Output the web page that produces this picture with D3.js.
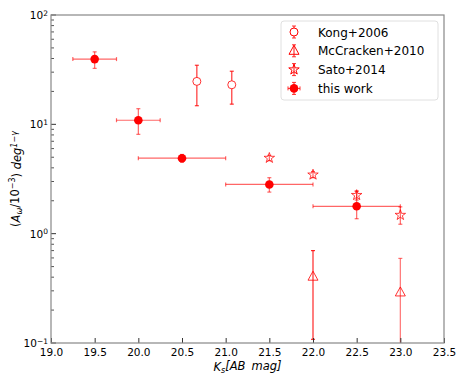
<!DOCTYPE html>
<html>
<head>
<meta charset="utf-8">
<script src="https://cdn.jsdelivr.net/npm/d3@7"></script>
<style>
  body { margin: 0; background: #fff; }
  text { font-family: "DejaVu Sans", sans-serif; }
</style>
</head>
<body>
<div id="chart-area"></div>
<script>
// data
const xTicks = [19.0, 19.5, 20.0, 20.5, 21.0, 21.5, 22.0, 22.5, 23.0, 23.5];
const yTicks = [0.1, 1, 10, 100];

// this work: magnitude, half-width, value, lower, upper
const workMag = [19.5, 20.0, 20.5, 21.5, 22.5];
const workHalf = [0.25, 0.25, 0.5, 0.5, 0.5];
const workVal = [39.5, 10.9, 4.9, 2.82, 1.78];
const workLo = [32.5, 8.1, 4.5, 2.4, 1.37];
const workHi = [46, 13.9, 5.3, 3.25, 2.45];

const kongMag = [20.67, 21.07];
const kongVal = [24.7, 23.0];
const kongLo = [14.8, 15.3];
const kongHi = [34.7, 30.6];

const mccMag = [22.0, 23.0];
const mccVal = [0.404, 0.29];
const mccLo = [0.108, 0.01];
const mccHi = [0.70, 0.594];

const satoMag = [21.5, 22.0, 22.5, 23.0];
const satoVal = [4.92, 3.46, 2.25, 1.48];
const satoLo = [4.65, 3.25, 2.03, 1.22];
const satoHi = [5.2, 3.7, 2.45, 1.76];

const legendNames = ['Kong+2006', 'McCracken+2010', 'Sato+2014', 'this work'];

const margin = { left: 51, right: 19, top: 15, bottom: 34 };
const W = 463, H = 377;
const width = W - margin.left - margin.right;
const height = H - margin.top - margin.bottom;

const svg = d3.select('#chart-area').append('svg')
  .attr('width', W)
  .attr('height', H);

const g = svg.append('g')
  .attr('transform', `translate(${margin.left}, ${margin.top})`);

const x = d3.scaleLinear().domain([19, 23.5]).range([0, width]);
const y = d3.scaleLog().domain([0.1, 100]).range([height, 0]);

const red = '#ff0000';

// clip for marks
svg.append('clipPath').attr('id', 'clip')
  .append('rect').attr('width', width).attr('height', height);
const marks = g.append('g').attr('clip-path', 'url(#clip)');

// x ticks (inside)
const xAxis = d3.axisBottom(x).tickValues(xTicks).tickSizeInner(-5).tickSizeOuter(0)
  .tickPadding(4).tickFormat(d3.format('.1f'));
g.append('g')
  .attr('transform', `translate(0, ${height})`)
  .call(xAxis)
  .call(a => a.select('.domain').remove())
  .call(a => a.selectAll('line').attr('stroke', '#333'))
  .call(a => a.selectAll('text').attr('font-size', '10.5px').attr('fill', '#000')
    .attr('dy', '0.85em'));

// y ticks: major + minor inside
const minor = [];
for (let e = -1; e < 2; e++) {
  for (let k = 2; k < 10; k++) minor.push(k * Math.pow(10, e));
}
const yAxis = g.append('g');
yAxis.selectAll('.major').data(yTicks).enter().append('line')
  .attr('x1', 0).attr('x2', 5)
  .attr('y1', d => y(d)).attr('y2', d => y(d))
  .attr('stroke', '#333');
yAxis.selectAll('.minor').data(minor).enter().append('line')
  .attr('x1', 0).attr('x2', 3)
  .attr('y1', d => y(d)).attr('y2', d => y(d))
  .attr('stroke', '#555');
const yLab = yAxis.selectAll('.lab').data(yTicks).enter().append('text')
  .attr('x', -3)
  .attr('y', d => y(d) + 4)
  .attr('text-anchor', 'end')
  .attr('font-size', '10.5px');
yLab.append('tspan').text('10');
yLab.append('tspan').attr('dy', '-0.45em').attr('font-size', '7.5px')
  .text(d => String(Math.round(Math.log10(d))).replace('-', '\u2212'));

// frame
g.append('rect')
  .attr('width', width).attr('height', height)
  .attr('fill', 'none').attr('stroke', '#888').attr('stroke-width', 1.2);

// error bar helper
function vbar(sel, xv, lo, hi, op) {
  sel.append('line').attr('x1', x(xv)).attr('x2', x(xv))
    .attr('y1', y(lo)).attr('y2', y(hi))
    .attr('stroke', red).attr('stroke-opacity', op).attr('stroke-width', 1.2);
  [lo, hi].forEach(v => {
    sel.append('line').attr('x1', x(xv) - 2).attr('x2', x(xv) + 2)
      .attr('y1', y(v)).attr('y2', y(v))
      .attr('stroke', red).attr('stroke-opacity', op).attr('stroke-width', 1.2);
  });
}
function hbar(sel, xv, half, yv, op) {
  sel.append('line').attr('x1', x(xv - half)).attr('x2', x(xv + half))
    .attr('y1', y(yv)).attr('y2', y(yv))
    .attr('stroke', red).attr('stroke-opacity', op).attr('stroke-width', 1.2);
  [xv - half, xv + half].forEach(v => {
    sel.append('line').attr('x1', x(v)).attr('x2', x(v))
      .attr('y1', y(yv) - 2).attr('y2', y(yv) + 2)
      .attr('stroke', red).attr('stroke-opacity', op).attr('stroke-width', 1.2);
  });
}

const starPath = d3.symbol().type(d3.symbolStar).size(34)();
const triPath = 'M0,-5.5L5,3.5L-5,3.5Z';

// Kong+2006
kongMag.forEach((m, i) => {
  vbar(marks, m, kongLo[i], kongHi[i], 0.8);
  marks.append('circle').attr('cx', x(m)).attr('cy', y(kongVal[i])).attr('r', 4)
    .attr('fill', '#fff').attr('stroke', red).attr('stroke-opacity', 0.8);
});

// McCracken+2010
mccMag.forEach((m, i) => {
  vbar(marks, m, mccLo[i], mccHi[i], i === 0 ? 0.85 : 0.55);
  marks.append('path').attr('d', triPath)
    .attr('transform', `translate(${x(m)},${y(mccVal[i])})`)
    .attr('fill', 'none').attr('stroke', red).attr('stroke-opacity', 0.8);
});

// Sato+2014
satoMag.forEach((m, i) => {
  vbar(marks, m, satoLo[i], satoHi[i], 0.6);
  marks.append('path').attr('d', starPath)
    .attr('transform', `translate(${x(m)},${y(satoVal[i])})`)
    .attr('fill', 'none').attr('stroke', red).attr('stroke-opacity', 0.75);
});

// this work
workMag.forEach((m, i) => {
  hbar(marks, m, workHalf[i], workVal[i], 0.6);
  vbar(marks, m, workLo[i], workHi[i], 0.6);
  marks.append('circle').attr('cx', x(m)).attr('cy', y(workVal[i])).attr('r', 4.3)
    .attr('fill', red);
});

// legend
const lg = svg.append('g').attr('transform', 'translate(281, 21)');
lg.append('rect').attr('width', 157).attr('height', 79).attr('rx', 3)
  .attr('fill', '#fff').attr('stroke', '#e0e0e0');
legendNames.forEach((name, i) => {
  const row = lg.append('g').attr('transform', `translate(13, ${11 + i * 18.8})`);
  row.append('line').attr('x1', 0).attr('x2', 0).attr('y1', -6).attr('y2', 6)
    .attr('stroke', red).attr('stroke-opacity', 0.8).attr('stroke-width', 1.2);
  [-6, 6].forEach(v => row.append('line').attr('x1', -2).attr('x2', 2)
    .attr('y1', v).attr('y2', v).attr('stroke', red).attr('stroke-opacity', 0.8));
  if (i === 0) {
    row.append('circle').attr('r', 4).attr('fill', '#fff').attr('stroke', red);
  } else if (i === 1) {
    row.append('path').attr('d', triPath).attr('fill', 'none').attr('stroke', red);
  } else if (i === 2) {
    row.append('path').attr('d', starPath).attr('fill', 'none').attr('stroke', red);
  } else {
    row.append('line').attr('x1', -6).attr('x2', 6).attr('stroke', red).attr('stroke-opacity', 0.8);
    [-6, 6].forEach(v => row.append('line').attr('x1', v).attr('x2', v)
      .attr('y1', -2).attr('y2', 2).attr('stroke', red).attr('stroke-opacity', 0.8));
    row.append('circle').attr('r', 4.3).attr('fill', red);
  }
  row.append('text').attr('x', 24).attr('y', 4.5).attr('font-size', '12px').text(name);
});

// x axis label
const xl = svg.append('text')
  .attr('x', margin.left + width / 2)
  .attr('y', 371)
  .attr('text-anchor', 'middle')
  .attr('font-size', '11.5px')
  .attr('font-style', 'italic');
xl.append('tspan').text('K');
xl.append('tspan').attr('dy', '0.3em').attr('font-size', '8px').text('s');
xl.append('tspan').attr('dy', '-0.3em').text('[AB\u2009 mag]');

// y axis label
const yl = svg.append('text')
  .attr('transform', `translate(20, ${margin.top + height / 2}) rotate(-90)`)
  .attr('text-anchor', 'middle')
  .attr('font-size', '11.5px');
yl.append('tspan').text('(');
yl.append('tspan').attr('font-style', 'italic').text('A');
yl.append('tspan').attr('dy', '0.3em').attr('font-size', '8px').attr('font-style', 'italic').text('\u03c9');
yl.append('tspan').attr('dy', '-0.3em').text('/10');
yl.append('tspan').attr('dy', '-0.45em').attr('font-size', '8px').text('\u22123');
yl.append('tspan').attr('dy', '0.45em').text(') ');
yl.append('tspan').attr('font-style', 'italic').text('deg');
yl.append('tspan').attr('dy', '-0.45em').attr('font-size', '8px').attr('font-style', 'italic').text('1\u2212\u03b3');
</script>
</body>
</html>
